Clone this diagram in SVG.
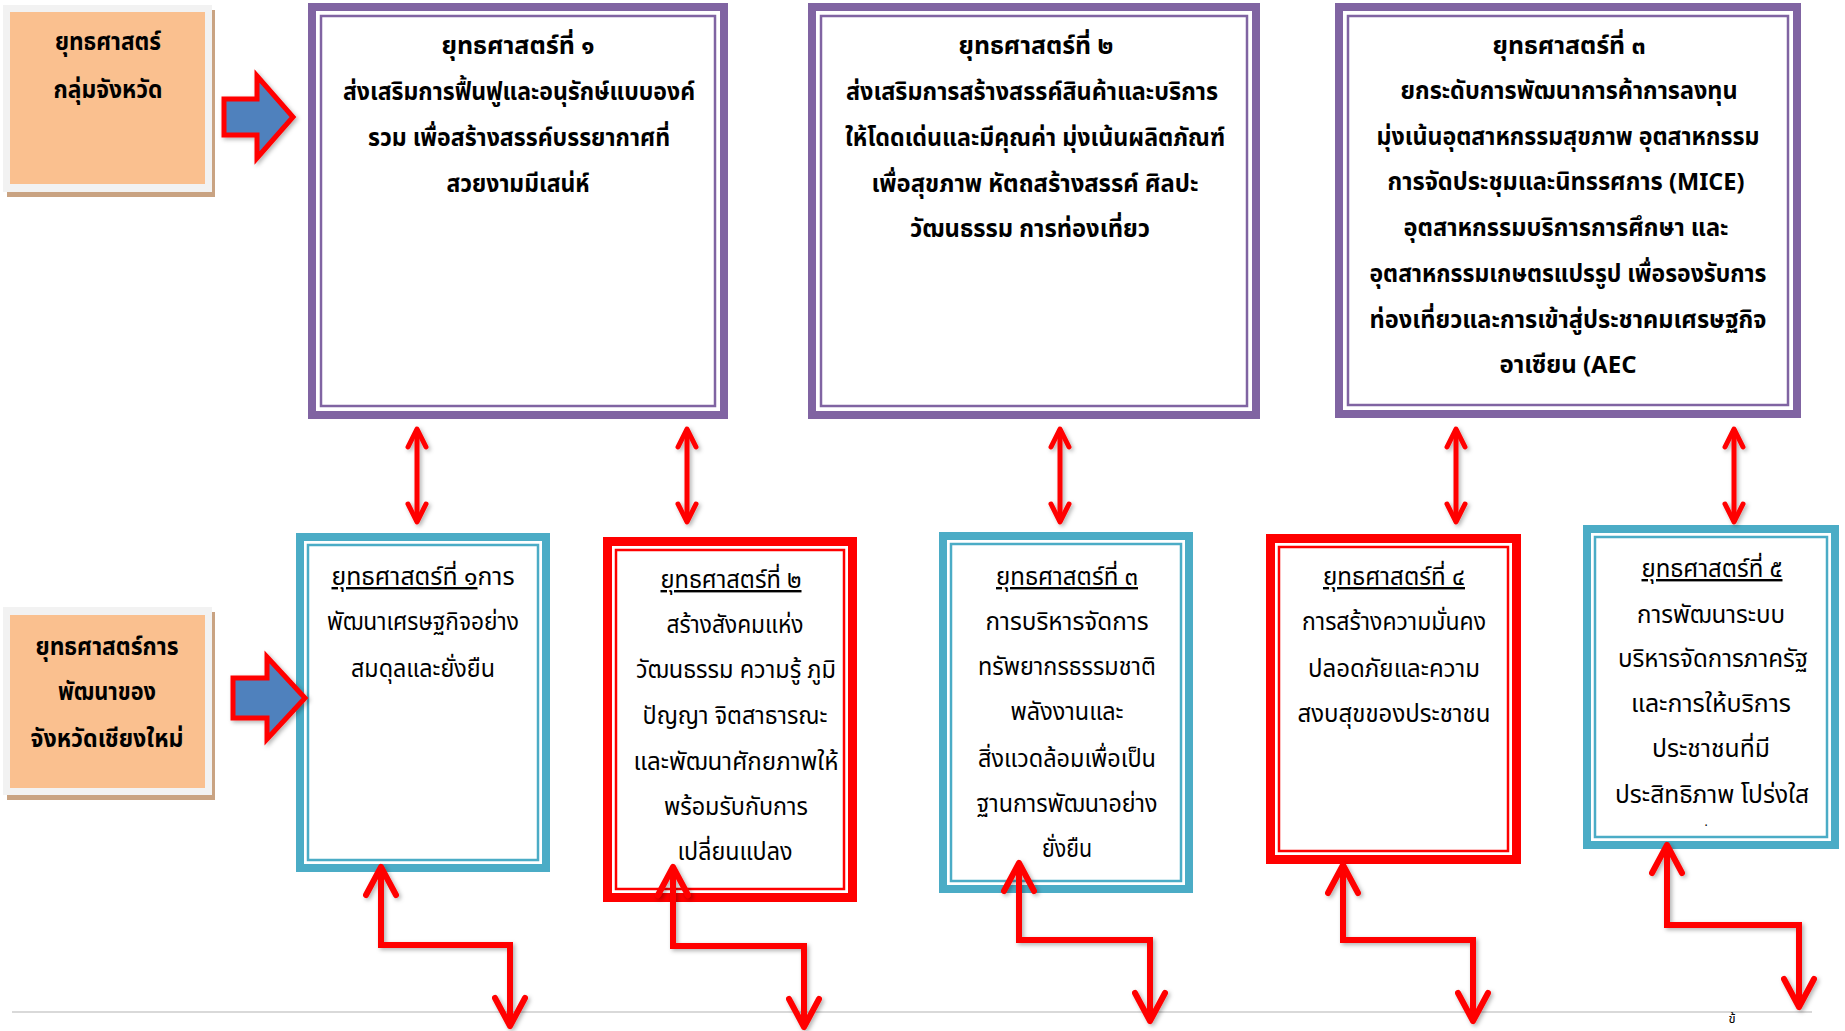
<svg xmlns="http://www.w3.org/2000/svg" width="1845" height="1031" viewBox="0 0 1845 1031">
<style>
  text { font-family: "Noto Sans Thai", "Noto Sans", "DejaVu Sans", sans-serif; fill: #000; text-anchor: middle; }
  .hd { font-size: 24px; font-weight: bold; }
  .bd { font-size: 24px; font-weight: normal; }
  .pOut { fill: #fff; stroke: #8064A2; stroke-width: 8; }
  .pIn { fill: none; stroke: #8064A2; stroke-width: 2.5; }
  .bOut { fill: #fff; stroke: #4BACC6; stroke-width: 8; }
  .bIn { fill: none; stroke: #4BACC6; stroke-width: 2.5; }
  .rOut { fill: #fff; stroke: #FF0000; stroke-width: 9; }
  .rIn { fill: none; stroke: #FF0000; stroke-width: 2.5; }
  .frame { fill: #F2F2F2; }
  .shadow { fill: #C9A382; }
  .orange { fill: #FAC08F; }
  .blk { fill: #4F81BD; stroke: #FF0000; stroke-width: 5; stroke-linejoin: miter; }
  .dbl { fill: none; stroke: #FF0000; stroke-width: 5; marker-start: url(#ahS); marker-end: url(#ahS); }
  .zz { fill: none; stroke: #FF0000; stroke-width: 6; stroke-linejoin: miter; marker-start: url(#ahL); marker-end: url(#ahL); }
  .u { text-decoration: underline; }
</style>
<defs>
  <marker id="ahS" viewBox="0 0 24 24" refX="21" refY="12" markerWidth="24" markerHeight="24" markerUnits="userSpaceOnUse" orient="auto-start-reverse">
    <path d="M3,3 L21,12 L3,21" fill="none" stroke="#FF0000" stroke-width="5" stroke-linecap="round" stroke-linejoin="round"/>
  </marker>
  <marker id="ahL" viewBox="0 0 36 36" refX="32" refY="18" markerWidth="36" markerHeight="36" markerUnits="userSpaceOnUse" orient="auto-start-reverse">
    <path d="M4,3 L32,18 L4,33" fill="none" stroke="#FF0000" stroke-width="6" stroke-linecap="round" stroke-linejoin="round"/>
  </marker>
  <filter id="sh" x="-20%" y="-20%" width="140%" height="140%">
    <feDropShadow dx="2" dy="2" stdDeviation="2" flood-color="#000" flood-opacity="0.3"/>
  </filter>
</defs>

<rect width="1845" height="1031" fill="#fff"/>

<!-- bottom page line -->
<line x1="12" y1="1012" x2="1812" y2="1012" stroke="#D9D9D9" stroke-width="2"/>

<!-- Left label boxes -->
<g id="label-group">
  <rect class="shadow" x="7" y="10" width="208" height="187"/>
  <rect class="frame" x="3" y="5" width="209" height="187"/>
  <rect class="orange" x="10" y="12" width="195" height="172"/>
  <text class="hd" x="108" y="50" textLength="106" lengthAdjust="spacingAndGlyphs">ยุทธศาสตร์</text>
  <text class="hd" x="108" y="98" textLength="109" lengthAdjust="spacingAndGlyphs">กลุ่มจังหวัด</text>
</g>
<g id="label-province">
  <rect class="shadow" x="7" y="612" width="208" height="188"/>
  <rect class="frame" x="3" y="607" width="209" height="188"/>
  <rect class="orange" x="10" y="615" width="195" height="173"/>
  <text class="hd" x="107" y="655" textLength="143" lengthAdjust="spacingAndGlyphs">ยุทธศาสตร์การ</text>
  <text class="hd" x="107" y="700" textLength="98" lengthAdjust="spacingAndGlyphs">พัฒนาของ</text>
  <text class="hd" x="107" y="747" textLength="153" lengthAdjust="spacingAndGlyphs">จังหวัดเชียงใหม่</text>
</g>

<!-- Top row: group strategies -->
<g id="group-strategy-1">
  <rect class="pOut" x="312" y="7" width="412" height="408"/>
  <rect class="pIn" x="321" y="16" width="394" height="390"/>
  <text class="hd" x="518" y="54" textLength="153" lengthAdjust="spacingAndGlyphs">ยุทธศาสตร์ที่  ๑</text>
  <text class="hd" x="519" y="100" textLength="352" lengthAdjust="spacingAndGlyphs">ส่งเสริมการฟื้นฟูและอนุรักษ์แบบองค์</text>
  <text class="hd" x="519" y="146" textLength="302" lengthAdjust="spacingAndGlyphs">รวม เพื่อสร้างสรรค์บรรยากาศที่</text>
  <text class="hd" x="518" y="192" textLength="143" lengthAdjust="spacingAndGlyphs">สวยงามมีเสน่ห์</text>
</g>
<g id="group-strategy-2">
  <rect class="pOut" x="812" y="7" width="444" height="408"/>
  <rect class="pIn" x="821" y="16" width="426" height="390"/>
  <text class="hd" x="1036" y="54" textLength="155" lengthAdjust="spacingAndGlyphs">ยุทธศาสตร์ที่  ๒</text>
  <text class="hd" x="1032" y="100" textLength="372" lengthAdjust="spacingAndGlyphs">ส่งเสริมการสร้างสรรค์สินค้าและบริการ</text>
  <text class="hd" x="1035" y="146" textLength="380" lengthAdjust="spacingAndGlyphs">ให้โดดเด่นและมีคุณค่า มุ่งเน้นผลิตภัณฑ์</text>
  <text class="hd" x="1035" y="192" textLength="327" lengthAdjust="spacingAndGlyphs">เพื่อสุขภาพ หัตถสร้างสรรค์ ศิลปะ</text>
  <text class="hd" x="1030" y="237" textLength="240" lengthAdjust="spacingAndGlyphs">วัฒนธรรม การท่องเที่ยว</text>
</g>
<g id="group-strategy-3">
  <rect class="pOut" x="1339" y="7" width="458" height="407"/>
  <rect class="pIn" x="1348" y="16" width="440" height="389"/>
  <text class="hd" x="1569" y="54" textLength="153" lengthAdjust="spacingAndGlyphs">ยุทธศาสตร์ที่  ๓</text>
  <text class="hd" x="1569" y="99" textLength="337" lengthAdjust="spacingAndGlyphs">ยกระดับการพัฒนาการค้าการลงทุน</text>
  <text class="hd" x="1568" y="145" textLength="383" lengthAdjust="spacingAndGlyphs">มุ่งเน้นอุตสาหกรรมสุขภาพ อุตสาหกรรม</text>
  <text class="hd" x="1566" y="190" textLength="357" lengthAdjust="spacingAndGlyphs">การจัดประชุมและนิทรรศการ (MICE)</text>
  <text class="hd" x="1566" y="236" textLength="325" lengthAdjust="spacingAndGlyphs">อุตสาหกรรมบริการการศึกษา และ</text>
  <text class="hd" x="1568" y="282" textLength="397" lengthAdjust="spacingAndGlyphs">อุตสาหกรรมเกษตรแปรรูป เพื่อรองรับการ</text>
  <text class="hd" x="1568" y="328" textLength="397" lengthAdjust="spacingAndGlyphs">ท่องเที่ยวและการเข้าสู่ประชาคมเศรษฐกิจ</text>
  <text class="hd" x="1568" y="373" textLength="137" lengthAdjust="spacingAndGlyphs">อาเซียน (AEC</text>
</g>

<!-- Bottom row: provincial strategies -->
<g id="province-strategy-1">
  <rect class="bOut" x="300" y="537" width="246" height="331"/>
  <rect class="bIn" x="308" y="545" width="230" height="315"/>
  <text class="bd" x="423" y="585" textLength="183" lengthAdjust="spacingAndGlyphs"><tspan class="u">ยุทธศาสตร์ที่  ๑</tspan>การ</text>
  <text class="bd" x="423" y="630" textLength="192" lengthAdjust="spacingAndGlyphs">พัฒนาเศรษฐกิจอย่าง</text>
  <text class="bd" x="423" y="677" textLength="144" lengthAdjust="spacingAndGlyphs">สมดุลและยั่งยืน</text>
</g>
<g id="province-strategy-2">
  <rect class="rOut" x="607.5" y="541.5" width="245" height="356"/>
  <rect class="rIn" x="616" y="550" width="228" height="339"/>
  <text class="bd u" x="731" y="588" textLength="141" lengthAdjust="spacingAndGlyphs">ยุทธศาสตร์ที่ ๒</text>
  <text class="bd" x="735" y="633" textLength="137" lengthAdjust="spacingAndGlyphs">สร้างสังคมแห่ง</text>
  <text class="bd" x="736" y="678" textLength="200" lengthAdjust="spacingAndGlyphs">วัฒนธรรม ความรู้ ภูมิ</text>
  <text class="bd" x="735" y="724" textLength="185" lengthAdjust="spacingAndGlyphs">ปัญญา จิตสาธารณะ</text>
  <text class="bd" x="736" y="770" textLength="205" lengthAdjust="spacingAndGlyphs">และพัฒนาศักยภาพให้</text>
  <text class="bd" x="736" y="815" textLength="144" lengthAdjust="spacingAndGlyphs">พร้อมรับกับการ</text>
  <text class="bd" x="735" y="860" textLength="115" lengthAdjust="spacingAndGlyphs">เปลี่ยนแปลง</text>
</g>
<g id="province-strategy-3">
  <rect class="bOut" x="943" y="536" width="246" height="353"/>
  <rect class="bIn" x="951" y="544" width="230" height="337"/>
  <text class="bd u" x="1067" y="585" textLength="142" lengthAdjust="spacingAndGlyphs">ยุทธศาสตร์ที่ ๓</text>
  <text class="bd" x="1067" y="630" textLength="163" lengthAdjust="spacingAndGlyphs">การบริหารจัดการ</text>
  <text class="bd" x="1067" y="675" textLength="178" lengthAdjust="spacingAndGlyphs">ทรัพยากรธรรมชาติ</text>
  <text class="bd" x="1067" y="720" textLength="113" lengthAdjust="spacingAndGlyphs">พลังงานและ</text>
  <text class="bd" x="1067" y="767" textLength="178" lengthAdjust="spacingAndGlyphs">สิ่งแวดล้อมเพื่อเป็น</text>
  <text class="bd" x="1067" y="812" textLength="181" lengthAdjust="spacingAndGlyphs">ฐานการพัฒนาอย่าง</text>
  <text class="bd" x="1067" y="857" textLength="50" lengthAdjust="spacingAndGlyphs">ยั่งยืน</text>
</g>
<g id="province-strategy-4">
  <rect class="rOut" x="1270.5" y="538.5" width="246" height="321"/>
  <rect class="rIn" x="1279" y="547" width="229" height="304"/>
  <text class="bd u" x="1394" y="585" textLength="142" lengthAdjust="spacingAndGlyphs">ยุทธศาสตร์ที่ ๔</text>
  <text class="bd" x="1394" y="630" textLength="184" lengthAdjust="spacingAndGlyphs">การสร้างความมั่นคง</text>
  <text class="bd" x="1394" y="677" textLength="172" lengthAdjust="spacingAndGlyphs">ปลอดภัยและความ</text>
  <text class="bd" x="1394" y="722" textLength="193" lengthAdjust="spacingAndGlyphs">สงบสุขของประชาชน</text>
</g>
<g id="province-strategy-5">
  <rect class="bOut" x="1587" y="529" width="248" height="316"/>
  <rect class="bIn" x="1595" y="537" width="232" height="300"/>
  <text class="bd u" x="1712" y="577" textLength="141" lengthAdjust="spacingAndGlyphs">ยุทธศาสตร์ที่ ๕</text>
  <text class="bd" x="1711" y="623" textLength="148" lengthAdjust="spacingAndGlyphs">การพัฒนาระบบ</text>
  <text class="bd" x="1713" y="667" textLength="190" lengthAdjust="spacingAndGlyphs">บริหารจัดการภาครัฐ</text>
  <text class="bd" x="1711" y="712" textLength="160" lengthAdjust="spacingAndGlyphs">และการให้บริการ</text>
  <text class="bd" x="1711" y="757" textLength="118" lengthAdjust="spacingAndGlyphs">ประชาชนที่มี</text>
  <text class="bd" x="1712" y="803" textLength="194" lengthAdjust="spacingAndGlyphs">ประสิทธิภาพ โปร่งใส</text>
  <text class="bd" x="1706" y="826" style="font-size:12px">.</text>
</g>

<!-- Connectors -->
<g id="connectors" filter="url(#sh)">
  <path class="blk" d="M224,99 H257 V76 L293,117 L257,158 V135 H224 Z"/>
  <path class="blk" d="M233,678 H267 V657 L305,698 L267,739 V718 H233 Z"/>
  <line class="dbl" x1="417" y1="429" x2="417" y2="522"/>
  <line class="dbl" x1="687" y1="429" x2="687" y2="522"/>
  <line class="dbl" x1="1060" y1="429" x2="1060" y2="522"/>
  <line class="dbl" x1="1456" y1="429" x2="1456" y2="522"/>
  <line class="dbl" x1="1734" y1="429" x2="1734" y2="522"/>
  <path class="zz" d="M381,867 V945 H510 V1026"/>
  <path class="zz" d="M673,867 V946 H804 V1027"/>
  <path class="zz" d="M1019,863 V940 H1150 V1021"/>
  <path class="zz" d="M1343,865 V940 H1473 V1021"/>
  <path class="zz" d="M1667,845 V925 H1799 V1007"/>
</g>

<text x="1732" y="1023" style="font-size:13px">ข้</text>
</svg>
